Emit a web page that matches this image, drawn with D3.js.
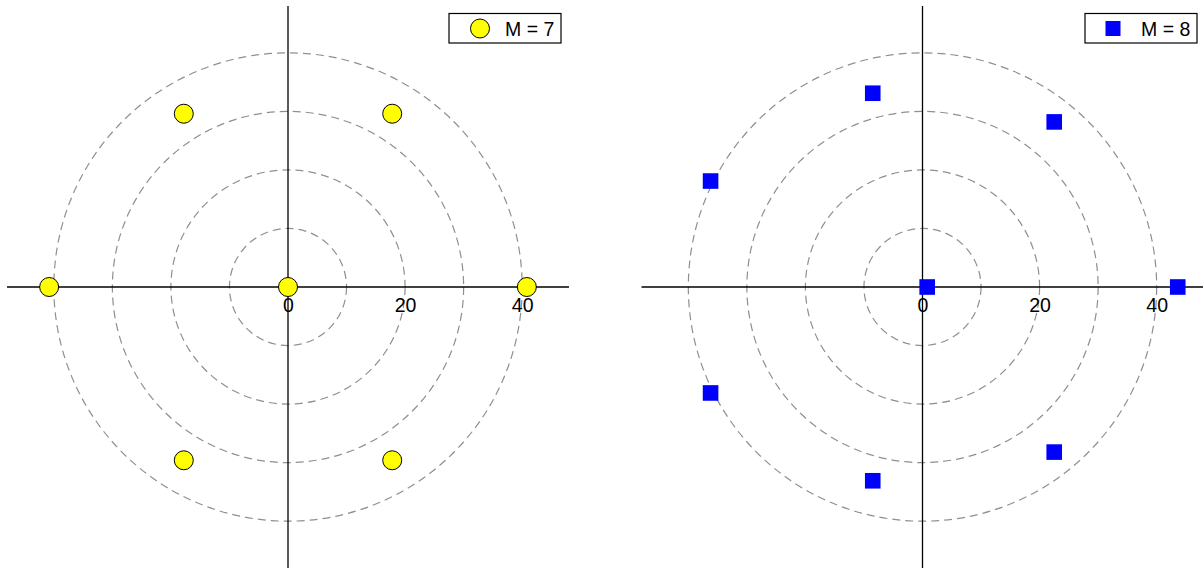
<!DOCTYPE html>
<html>
<head>
<meta charset="utf-8">
<script src="https://cdn.jsdelivr.net/npm/d3@7"></script>
<style>
  html, body { margin: 0; padding: 0; background: #fff; }
  svg { display: block; font-family: "Liberation Sans", Arial, sans-serif; }
</style>
</head>
<body>
<svg id="chart" width="1203" height="569"></svg>
<script>
// Constellation points for M = 7 (circles)
const m7X = [0, 40.8, -40.8, 17.8, -17.8, 17.8, -17.8];
const m7Y = [0, 0, 0, 29.6, 29.6, -29.6, -29.6];
// Constellation points for M = 8 (squares)
const m8X = [0.8, 43.6, 22.5, 22.5, -8.5, -8.5, -36.2, -36.2];
const m8Y = [0, 0, 28.2, -28.2, 33.1, -33.1, 18.1, -18.1];
// Reference rings and axis labels
const ringRadii = [10, 20, 30, 40];
const tickValues = [0, 20, 40];
const legendLabels = ["M = 7", "M = 8"];
const axisLimit = 48;

const svg = d3.select("#chart");

const panels = [
  { cx: 288, xs: m7X, ys: m7Y, shape: "circle", label: legendLabels[0], legendX: 449 },
  { cx: 922.5, xs: m8X, ys: m8Y, shape: "square", label: legendLabels[1], legendX: 1085 }
];

const cy = 287;
const half = 281;
const fontSize = 19.5;

panels.forEach(p => {
  const x = d3.scaleLinear().domain([-axisLimit, axisLimit]).range([p.cx - half, p.cx + half]);
  const y = d3.scaleLinear().domain([-axisLimit, axisLimit]).range([cy + half, cy - half]);
  const g = svg.append("g");

  // dashed rings
  g.selectAll("circle.ring").data(ringRadii).join("circle")
    .attr("class", "ring")
    .attr("cx", x(0)).attr("cy", y(0))
    .attr("r", d => x(d) - x(0))
    .attr("fill", "none")
    .attr("stroke", "#8f8f8f")
    .attr("stroke-width", 1.2)
    .attr("stroke-dasharray", "8,5");

  // axes through the origin
  g.append("line")
    .attr("x1", x(-axisLimit)).attr("x2", x(axisLimit))
    .attr("y1", y(0)).attr("y2", y(0))
    .attr("stroke", "#000").attr("stroke-width", 1.3);
  g.append("line")
    .attr("x1", x(0)).attr("x2", x(0))
    .attr("y1", y(-axisLimit)).attr("y2", y(axisLimit))
    .attr("stroke", "#000").attr("stroke-width", 1.3);

  // tick labels under the horizontal axis
  const ax = g.append("g")
    .attr("transform", `translate(0,${y(0)})`)
    .call(d3.axisBottom(x).tickValues(tickValues).tickSize(0).tickPadding(11).tickFormat(d3.format("d")));
  ax.select(".domain").remove();
  ax.selectAll("text")
    .attr("font-size", fontSize)
    .attr("font-family", "Liberation Sans, Arial, sans-serif")
    .attr("fill", "#000");

  const pts = p.xs.map((v, i) => ({ x: v, y: p.ys[i] }));

  // legend box
  const lg = g.append("g").attr("transform", `translate(${p.legendX},13.5)`);
  lg.append("rect")
    .attr("width", 112).attr("height", 29.5)
    .attr("fill", "#fff").attr("stroke", "#000").attr("stroke-width", 1.2);
  if (p.shape === "circle") {
    lg.append("circle").attr("cx", 31).attr("cy", 15)
      .attr("r", 9.5).attr("fill", "#ffff00").attr("stroke", "#000").attr("stroke-width", 1);
  } else {
    lg.append("rect").attr("x", 28 - 7.5).attr("y", 15 - 7.5)
      .attr("width", 15).attr("height", 15).attr("fill", "#0000ff");
  }
  lg.append("text").attr("x", 56).attr("y", 22)
    .attr("font-size", fontSize).attr("fill", "#000").text(p.label);

  // points
  if (p.shape === "circle") {
    g.selectAll("circle.pt").data(pts).join("circle")
      .attr("class", "pt")
      .attr("cx", d => x(d.x)).attr("cy", d => y(d.y))
      .attr("r", 9.5)
      .attr("fill", "#ffff00").attr("stroke", "#000").attr("stroke-width", 1);
  } else {
    g.selectAll("rect.pt").data(pts).join("rect")
      .attr("class", "pt")
      .attr("x", d => x(d.x) - 7.8).attr("y", d => y(d.y) - 7.8)
      .attr("width", 15.6).attr("height", 15.6)
      .attr("fill", "#0000ff");
  }
});
</script>
</body>
</html>
